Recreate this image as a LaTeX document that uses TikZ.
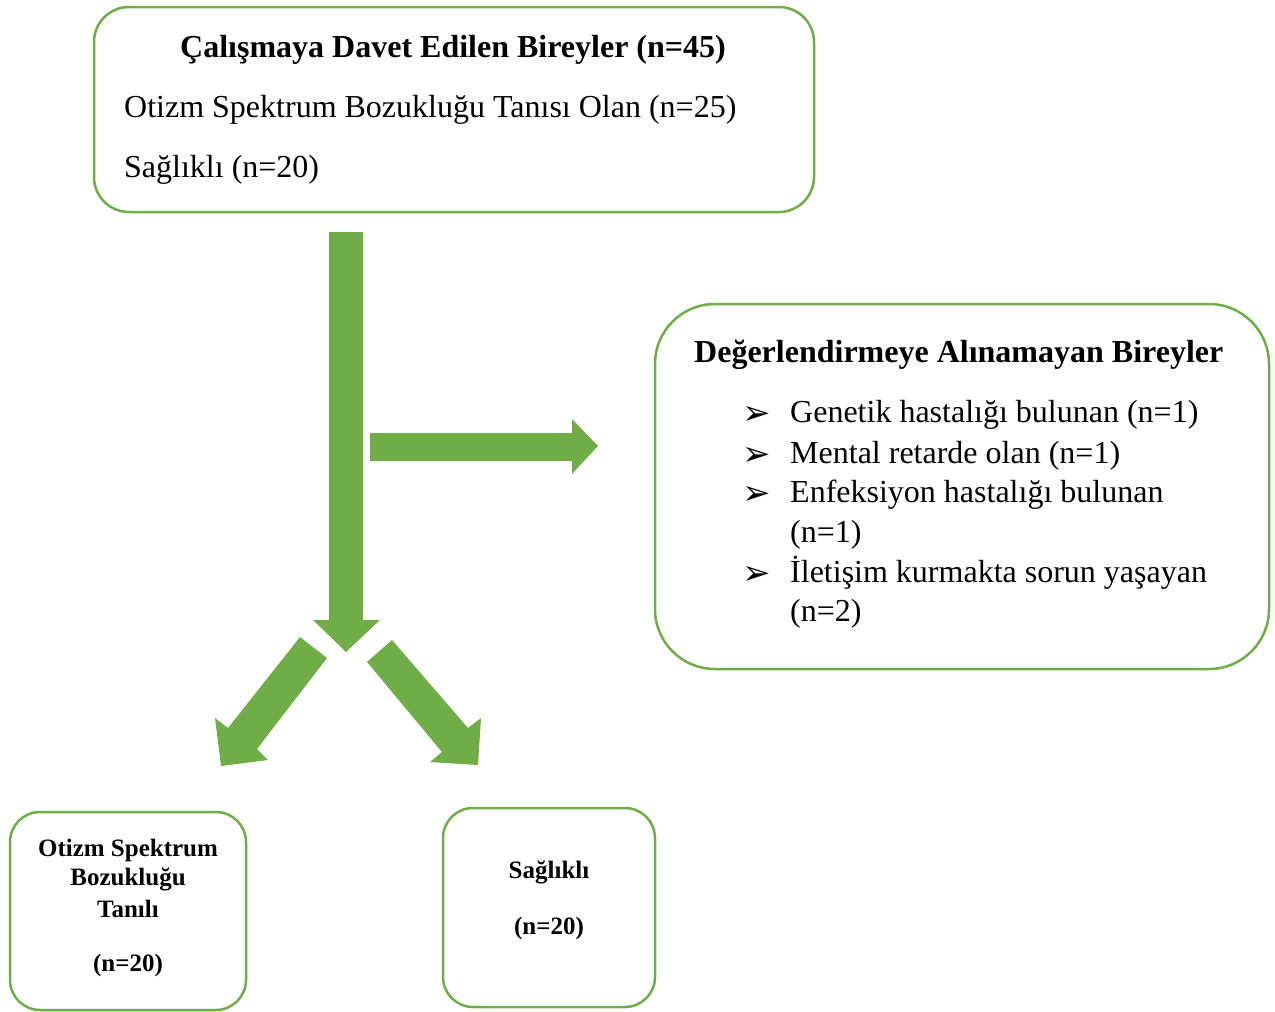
\documentclass[tikz,border=0pt]{standalone}
\usepackage{fontspec}
\setmainfont{Liberation Serif}
\newfontfamily\djv{DejaVu Sans}
\definecolor{gr}{HTML}{70AD47}
\begin{document}
\begin{tikzpicture}[x=1pt,y=-1pt,
  box/.style={draw=gr,line width=2.5pt},
  arr/.style={fill=gr,draw=none},
  big/.style={font=\fontsize{32}{38}\selectfont,inner sep=0pt},
  bigb/.style={font=\bfseries\fontsize{32}{38}\selectfont,inner sep=0pt},
  small/.style={font=\bfseries\fontsize{25}{30}\selectfont,inner sep=0pt},
  bul/.style={font=\djv\fontsize{34}{38}\selectfont,inner sep=0pt}]
\useasboundingbox (0,0) rectangle (1275,1012);
% boxes
\draw[box,rounded corners=35pt] (94,7) rectangle (814,212);
\draw[box,rounded corners=60pt] (655,304) rectangle (1269,669);
\draw[box,rounded corners=30pt] (10,812) rectangle (246,1010);
\draw[box,rounded corners=30pt] (443,808) rectangle (655,1007);
% top box text
\node[bigb,anchor=base] (t1) at (453,57) {Çalışmaya Davet Edilen Bireyler (n=45)};
\node[big,anchor=base west] (t2) at (124,117) {Otizm Spektrum Bozukluğu Tanısı Olan (n=25)};
\node[big,anchor=base west] (t3) at (124,177) {Sağlıklı (n=20)};
% right box text
\node[bigb,anchor=base west] (r0) at (694,362) {Değerlendirmeye Alınamayan Bireyler};
\foreach \y/\n in {422/b1,463/b2,502/b3,582/b4}
  \node[bul,anchor=base west] (\n) at (742,\y+2) {➢};
\node[big,anchor=base west] (r1) at (790,422) {Genetik hastalığı bulunan (n=1)};
\node[big,anchor=base west] (r2) at (790,463) {Mental retarde olan (n=1)};
\node[big,anchor=base west] (r3) at (790,502) {Enfeksiyon hastalığı bulunan};
\node[big,anchor=base west] (r3b) at (790,542) {(n=1)};
\node[big,anchor=base west] (r4) at (790,582) {İletişim kurmakta sorun yaşayan};
\node[big,anchor=base west] (r4b) at (790,621) {(n=2)};
% bottom boxes text
\node[small,anchor=base] (l1) at (128,856) {Otizm Spektrum};
\node[small,anchor=base] (l2) at (128,885) {Bozukluğu};
\node[small,anchor=base] (l3) at (128,917) {Tanılı};
\node[small,anchor=base] (l4) at (128,971) {(n=20)};
\node[small,anchor=base] (m1) at (549,878) {Sağlıklı};
\node[small,anchor=base] (m2) at (549,934) {(n=20)};
% arrows
\fill[arr] (329,232) -- (363,232) -- (363,620) -- (380,620) -- (346,652) -- (313,620) -- (329,620) -- cycle;
\fill[arr] (370,433) -- (572,433) -- (572,419) -- (598,446) -- (572,474) -- (572,461) -- (370,461) -- cycle;
\fill[arr] (300,637) -- (327,658) -- (257,749) -- (268,760) -- (221,766) -- (215,718) -- (228,728) -- cycle;
\fill[arr] (392,640) -- (367,662) -- (442,752) -- (430,762) -- (478,765) -- (481,718) -- (468,728) -- cycle;
\end{tikzpicture}
\end{document}
